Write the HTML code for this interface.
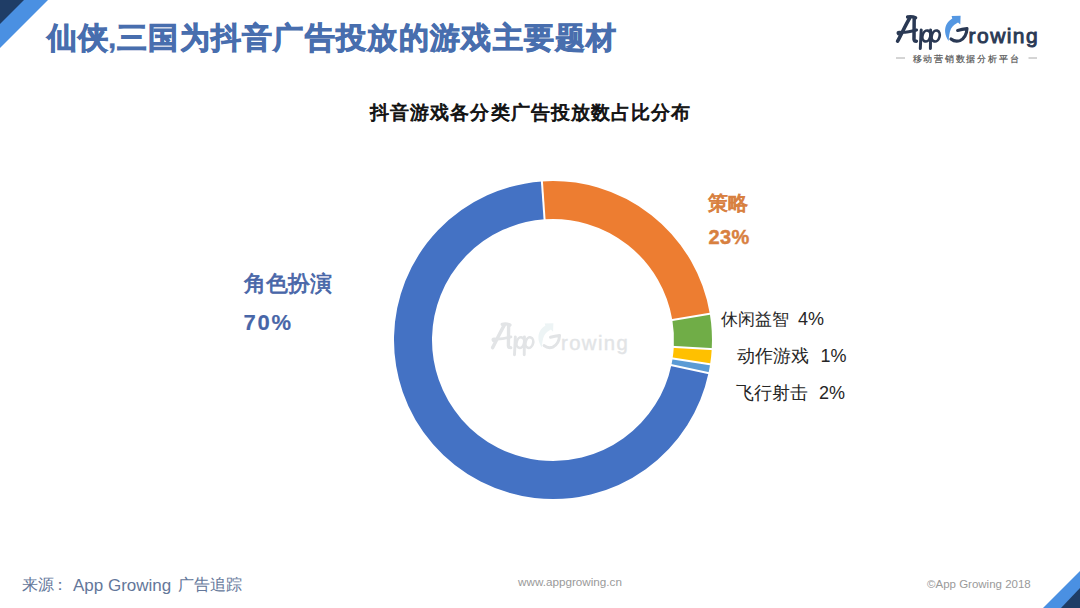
<!DOCTYPE html>
<html><head><meta charset="utf-8">
<style>
html,body{margin:0;padding:0;}
body{width:1080px;height:608px;overflow:hidden;background:#fff;position:relative;font-family:"Liberation Sans",sans-serif;}
.abs{position:absolute;white-space:nowrap;line-height:1;}
#title{left:47px;top:22.5px;font-size:30px;letter-spacing:1.3px;font-weight:bold;color:#486EAE;-webkit-text-stroke:0.85px #486EAE;}
#ctitle{left:370px;top:103px;font-size:19px;letter-spacing:1.1px;font-weight:normal;color:#111;-webkit-text-stroke:0.9px #111;}
.lbl-b{color:#4866A8;font-weight:bold;-webkit-text-stroke:0.15px #4866A8;}
.cjb{font-weight:normal;-webkit-text-stroke:0.75px #4866A8;}
.lbl-o{color:#D8803F;font-weight:bold;-webkit-text-stroke:0.4px #D8803F;}
.lbl{color:#262626;font-size:18px;}
.cj{font-size:17px;}
.foot{color:#64779A;}
</style></head>
<body>
<svg class="abs" style="left:0;top:0" width="1080" height="608" viewBox="0 0 1080 608">
  <!-- corners -->
  <polygon points="0,0 48,0 0,48" fill="#4A90E2"/>
  <polygon points="0,0 24,0 0,24" fill="#1F3D66"/>
  <polygon points="1043,608 1080,571 1080,608" fill="#4A90E2"/>
  <polygon points="1061,608 1080,588 1080,608" fill="#1F3D66"/>
<defs>
    <g id="logo">
      <!-- A -->
      <path d="M897.6 41.2 C901.5 34 905.5 25 909.8 17.8" fill="none" stroke="currentColor" stroke-width="3.6" stroke-linecap="round"/>
      <path d="M907.6 17 C910.5 16.2 913 16.5 915.6 17.8" fill="none" stroke="currentColor" stroke-width="3.4" stroke-linecap="round"/>
      <path d="M914.2 18 L914 39.2 Q914.3 41.3 916.4 41.2" fill="none" stroke="currentColor" stroke-width="3.5" stroke-linecap="round"/>
      <path d="M898.4 34 Q897 32 899.6 32.2 C905 32.8 911 31.5 916.6 30" fill="none" stroke="currentColor" stroke-width="2.9" stroke-linecap="round"/>
      <!-- p p -->
      <path d="M921.2 30 L920.3 48.5" fill="none" stroke="currentColor" stroke-width="3" stroke-linecap="round"/>
      <ellipse cx="926.4" cy="36" rx="3.9" ry="5.6" transform="rotate(15 926.4 36)" fill="none" stroke="currentColor" stroke-width="2.7"/>
      <path d="M930.6 30 L930.4 48.5" fill="none" stroke="currentColor" stroke-width="3" stroke-linecap="round"/>
      <ellipse cx="935.7" cy="36" rx="3.9" ry="5.6" transform="rotate(15 935.7 36)" fill="none" stroke="currentColor" stroke-width="2.7"/>
      <!-- arrow -->
      <path d="M948.6 41 C944.5 35 944.2 29 946.6 24.3 C948 21.8 949.8 20 952.3 18.6 L951.6 16.1 L960.6 15.8 L960.3 24.6 L958 22.4 C955.3 23.8 952.6 25.8 951 28.8 C949.5 31.8 949 36.3 948.6 41 Z" fill="var(--arrow)"/>
      <!-- G dark -->
      <path d="M957.6 30.4 Q962 29.2 967 28.6 Q966.5 37.5 960 40.6 Q955 42.3 951 39" fill="none" stroke="currentColor" stroke-width="3.1" stroke-linecap="round" stroke-linejoin="round"/>
      <text x="968.6" y="43.2" font-family="Liberation Sans, sans-serif" font-size="21" textLength="69" lengthAdjust="spacing" fill="currentColor" stroke="currentColor" style="stroke-width:var(--tsw)">rowing</text>
    </g>
  </defs>
  <use href="#logo" style="color:#2A3954;--arrow:#5497E2;--tsw:0.9px"/>
  <use href="#logo" transform="translate(-373.6 307.9) scale(0.965)" style="color:#E2E4E6;--arrow:#EDF4F5;--tsw:0.4px"/>
  <line x1="896" y1="58" x2="905" y2="58" stroke="#aaa" stroke-width="1"/>
  <line x1="1028.5" y1="58" x2="1037" y2="58" stroke="#aaa" stroke-width="1"/>
  <g id="donut">
  <path d="M543.23 200.34A140 140 0 0 1 691.08 316.89" fill="none" stroke="#ED7D31" stroke-width="38"/>
  <path d="M691.08 316.89A140 140 0 0 1 692.77 348.06" fill="none" stroke="#70AD47" stroke-width="38"/>
  <path d="M692.77 348.06A140 140 0 0 1 691.35 361.42" fill="none" stroke="#FFC000" stroke-width="38"/>
  <path d="M691.35 361.42A140 140 0 0 1 689.94 369.11" fill="none" stroke="#5B9BD5" stroke-width="38"/>
  <path d="M689.94 369.11A140 140 0 1 1 543.23 200.34" fill="none" stroke="#4472C4" stroke-width="38"/>
  <line x1="544.77" y1="222.29" x2="541.70" y2="178.39" stroke="#fff" stroke-width="2"/>
  <line x1="669.38" y1="320.52" x2="712.78" y2="313.26" stroke="#fff" stroke-width="2"/>
  <line x1="670.80" y1="346.79" x2="714.73" y2="349.33" stroke="#fff" stroke-width="2"/>
  <line x1="669.61" y1="358.05" x2="713.09" y2="364.78" stroke="#fff" stroke-width="2"/>
  <line x1="668.42" y1="364.53" x2="711.46" y2="373.68" stroke="#fff" stroke-width="2"/>
  </g>
</svg>
<div id="title" class="abs">仙侠<span style="letter-spacing:-1px;position:relative;left:-1.5px;-webkit-text-stroke:0.3px #486EAE">,</span>三国为抖音广告投放的游戏主要题材</div>
<div id="ctitle" class="abs">抖音游戏各分类广告投放数占比分布</div>

<div class="abs lbl-b" style="left:244px;top:273px;font-size:22px;"><span class="cjb">角色扮演</span></div>
<div class="abs lbl-b" style="left:243.5px;top:312px;font-size:22px;letter-spacing:1.8px;">70%</div>
<div class="abs lbl-o" style="left:708px;top:193px;font-size:20px;"><span style="font-weight:normal;-webkit-text-stroke:1px #D8803F;">策略</span></div>
<div class="abs lbl-o" style="left:708.5px;top:227px;font-size:20px;letter-spacing:0.4px;">23%</div>
<div class="abs lbl" style="left:721px;top:310px;"><span class="cj">休闲益智</span></div><div class="abs lbl" style="left:798px;top:310px;">4%</div>
<div class="abs lbl" style="left:737px;top:347px;"><span class="cj" style="font-size:17.8px">动作游戏</span></div><div class="abs lbl" style="left:820.5px;top:347px;">1%</div>
<div class="abs lbl" style="left:736px;top:384px;"><span class="cj" style="font-size:17.8px">飞行射击</span></div><div class="abs lbl" style="left:819px;top:384px;">2%</div>

<div class="abs" style="left:912.5px;top:54.5px;font-size:8.6px;letter-spacing:1.8px;color:#555;-webkit-text-stroke:0.2px #555;">移动营销数据分析平台</div>
<div class="abs foot" style="left:22px;top:577px;font-size:16px;">来源</div>
<div class="abs foot" style="left:51.5px;top:577px;font-size:16px;">：</div>
<div class="abs foot" style="left:73px;top:577px;font-size:17px;">App Growing</div>
<div class="abs foot" style="left:178px;top:577px;font-size:16px;">广告追踪</div>
<div class="abs" style="left:518px;top:576px;font-size:11.7px;color:#9a9a9a;">www.appgrowing.cn</div>
<div class="abs" style="left:927px;top:578.5px;font-size:11.5px;color:#9a9a9a;">©App Growing 2018</div>
</body></html>
